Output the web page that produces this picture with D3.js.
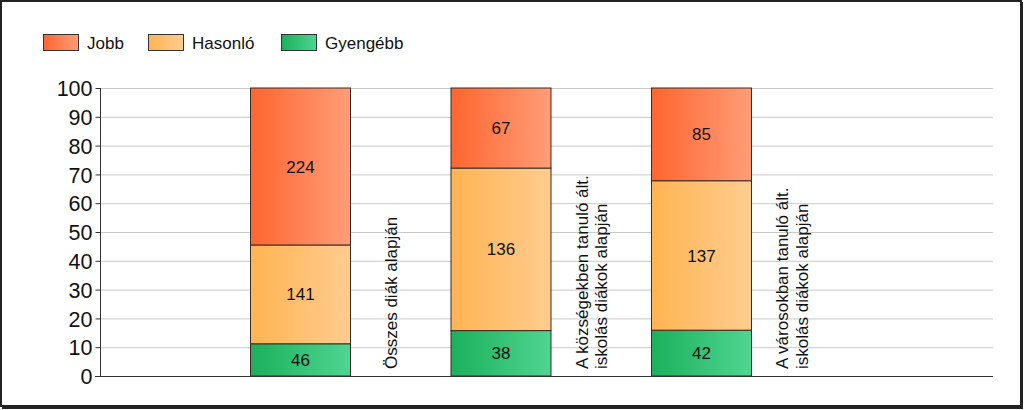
<!DOCTYPE html>
<html><head><meta charset="utf-8">
<script src="https://cdn.jsdelivr.net/npm/d3@7"></script>
<style>body{margin:0;background:#fff}svg{display:block;font-family:Arial,"Liberation Sans",sans-serif}</style>
</head><body><svg id="c" width="1024" height="410"></svg>
<script>
const categories = [["Összes diák alapján"], ["A községekben tanuló ált.", "iskolás diákok alapján"], ["A városokban tanuló ált.", "iskolás diákok alapján"]];
const seriesNames = ["Gyengébb", "Hasonló", "Jobb"];
const gyengebb = [46, 38, 42];
const hasonlo = [141, 136, 137];
const jobb = [224, 67, 85];
const yTicks = [0, 10, 20, 30, 40, 50, 60, 70, 80, 90, 100];
const legendOrder = ["Jobb", "Hasonló", "Gyengébb"];

const colors = {
  "Jobb": ["#ff6630", "#ff9d78"],
  "Hasonló": ["#ffb452", "#ffcc90"],
  "Gyengébb": ["#1bb05c", "#4fd591"]
};

const svg = d3.select("#c");
const defs = svg.append("defs");
Object.entries(colors).forEach(([k, c], i) => {
  const g = defs.append("linearGradient").attr("id", "g" + i).attr("x1", "0").attr("x2", "1").attr("y1", "0").attr("y2", "0");
  g.append("stop").attr("offset", "0").attr("stop-color", c[0]);
  g.append("stop").attr("offset", "1").attr("stop-color", c[1]);
  colors[k].id = "url(#g" + i + ")";
});

// frame
svg.append("rect").attr("x", 1).attr("y", 1).attr("width", 1020).attr("height", 405)
  .attr("fill", "none").attr("stroke", "#222").attr("stroke-width", 2);
svg.append("line").attr("x1", 1022).attr("x2", 1022).attr("y1", 2).attr("y2", 408).attr("stroke", "#222").attr("stroke-width", 2);
svg.append("line").attr("x1", 2).attr("x2", 1023).attr("y1", 408).attr("y2", 408).attr("stroke", "#222").attr("stroke-width", 2);

const x = d3.scaleLinear().domain([0, 4.454]).range([100, 993]);
const y = d3.scaleLinear().domain([0, 100]).range([376, 88]);

// grid
svg.append("g").selectAll("line").data(yTicks.filter(t => t > 0)).join("line")
  .attr("x1", 100).attr("x2", 993).attr("y1", d => y(d) + 0.5).attr("y2", d => y(d) + 0.5)
  .attr("stroke", "#c9c9c9").attr("stroke-width", 1);

// y axis
const ya = svg.append("g").attr("transform", "translate(100.5,0)")
  .call(d3.axisLeft(y).tickValues(yTicks).tickSize(5).tickPadding(3));
ya.select(".domain").attr("stroke", "#333").attr("d", "M0," + y(100) + "V" + (y(0) + 0.5));
ya.selectAll(".tick line").attr("stroke", "#333");
ya.selectAll(".tick text").attr("font-size", 21.5).attr("fill", "#111").attr("font-family", "Arial, 'Liberation Sans', sans-serif").attr("dy", "0.36em");

// stacked data
const rows = categories.map((c, i) => ({ i, "Gyengébb": gyengebb[i], "Hasonló": hasonlo[i], "Jobb": jobb[i] }));
const stack = d3.stack().keys(seriesNames).offset(d3.stackOffsetExpand);
const layers = stack(rows);
const barW = 100;

layers.forEach(layer => {
  const g = svg.append("g");
  g.selectAll("rect").data(layer).join("rect")
    .attr("x", d => x(d.data.i + 1) - barW / 2)
    .attr("width", barW)
    .attr("y", d => y(d[1] * 100))
    .attr("height", d => y(d[0] * 100) - y(d[1] * 100))
    .attr("fill", colors[layer.key].id)
    .attr("stroke", "#3a2a20").attr("stroke-width", 1);
  g.selectAll("text").data(layer).join("text")
    .attr("x", d => x(d.data.i + 1))
    .attr("y", d => (y(d[0] * 100) + y(d[1] * 100)) / 2)
    .attr("dy", "0.36em").attr("text-anchor", "middle")
    .attr("font-size", 17).attr("fill", "#111")
    .text(d => d.data[layer.key]);
});

// x axis line
svg.append("line").attr("x1", 95).attr("x2", 993).attr("y1", y(0) + 0.5).attr("y2", y(0) + 0.5).attr("stroke", "#333");

// category labels
categories.forEach((lines, i) => {
  const cx = x(i + 1) + 90;
  const n = lines.length;
  lines.forEach((t, j) => {
    const lx = cx + (j - (n - 1) / 2) * 19.5;
    svg.append("text")
      .attr("transform", `translate(${lx + 6.5},369) rotate(-90)`)
      .attr("font-size", 17).attr("fill", "#111").text(t);
  });
});

// legend
const legX = [43, 148, 281];
legendOrder.forEach((k, i) => {
  svg.append("rect").attr("x", legX[i] + 0.5).attr("y", 34.5).attr("width", 35).attr("height", 16)
    .attr("fill", colors[k].id).attr("stroke", "#333");
  svg.append("text").attr("x", legX[i] + 44).attr("y", 43).attr("dy", "0.36em")
    .attr("font-size", 17).attr("fill", "#111").text(k);
});
</script></body></html>
